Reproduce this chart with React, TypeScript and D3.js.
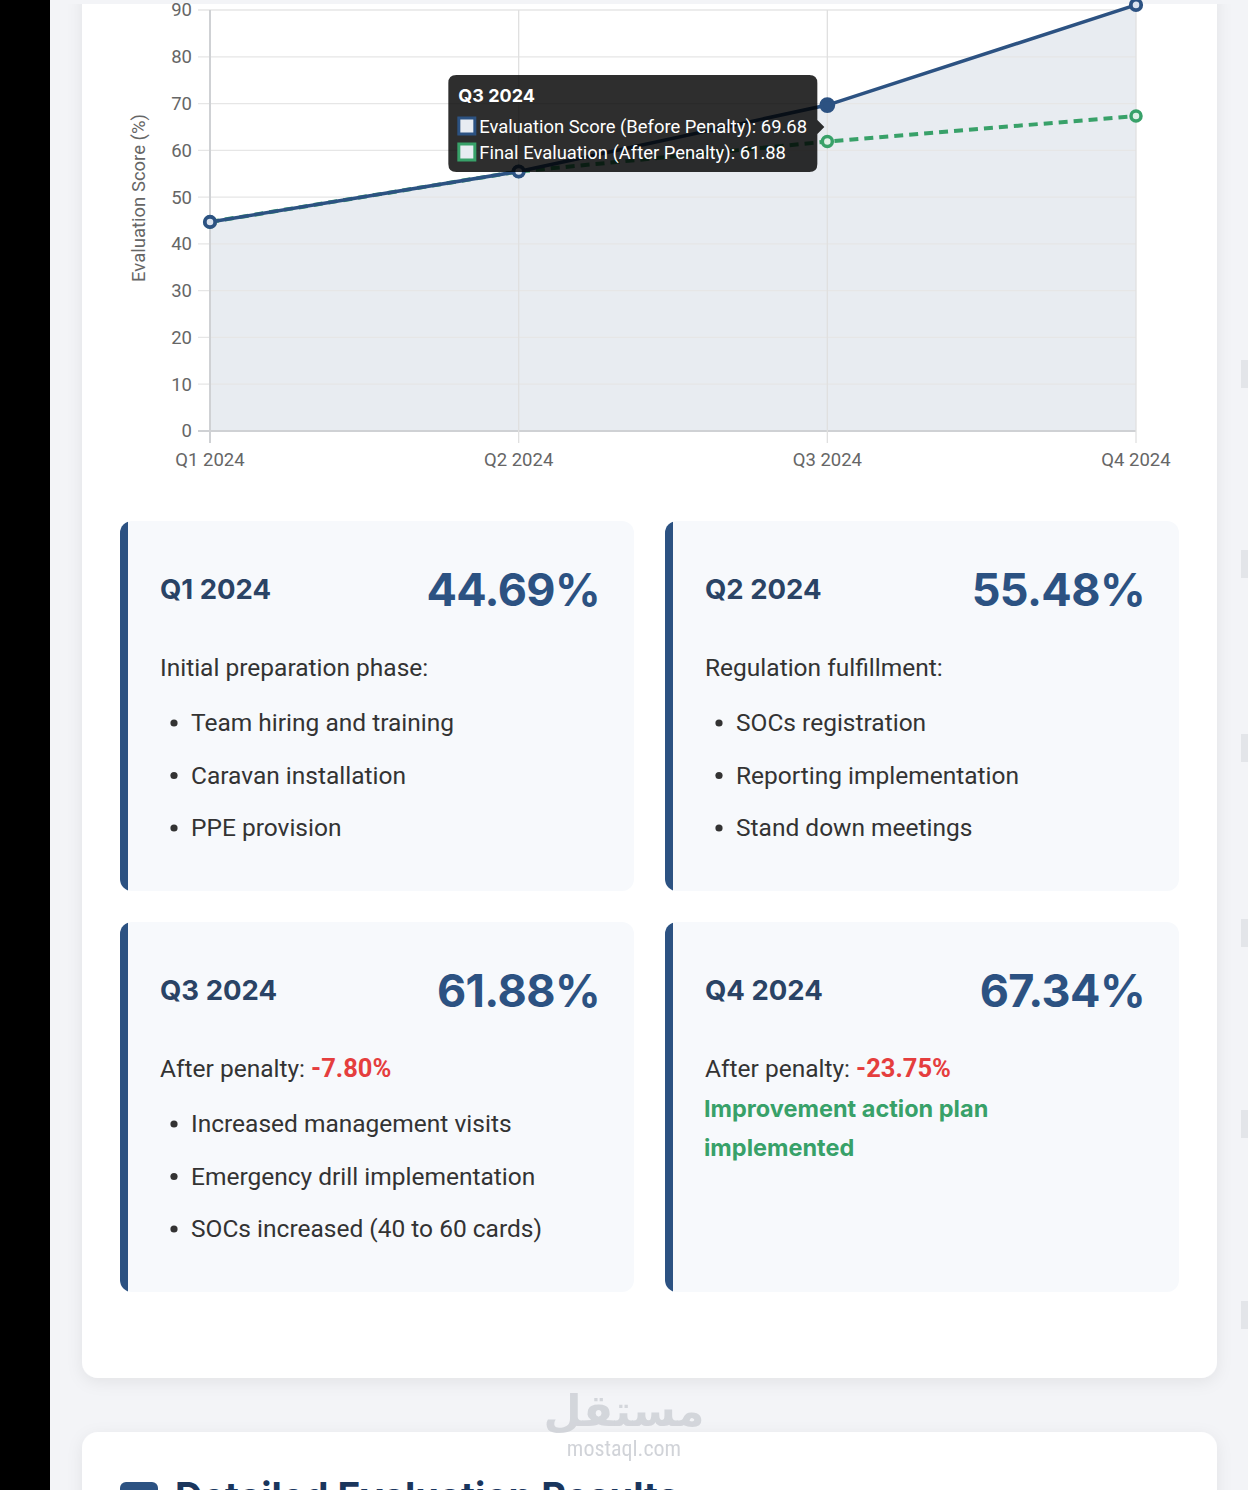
import React, { useEffect } from "react";
import * as d3 from "d3";

const quarters = ["Q1 2024", "Q2 2024", "Q3 2024", "Q4 2024"];
const beforePenalty = [44.69, 55.48, 69.68, 91.09];
const afterPenalty = [44.69, 55.48, 61.88, 67.34];
const yTicks = [0, 10, 20, 30, 40, 50, 60, 70, 80, 90];
const seriesNames = ["Evaluation Score (Before Penalty)", "Final Evaluation (After Penalty)"];
const tooltipIndex = 2;

const cardTitles = ["Q1 2024", "Q2 2024", "Q3 2024", "Q4 2024"];
const cardScores = ["44.69%", "55.48%", "61.88%", "67.34%"];
const cardIntros = ["Initial preparation phase:", "Regulation fulfillment:", "After penalty: ", "After penalty: "];
const cardPenalties = ["", "", "-7.80%", "-23.75%"];
const cardBullets = [
  ["Team hiring and training", "Caravan installation", "PPE provision"],
  ["SOCs registration", "Reporting implementation", "Stand down meetings"],
  ["Increased management visits", "Emergency drill implementation", "SOCs increased (40 to 60 cards)"],
  [],
];
const cardNotes = [[], [], [], ["Improvement action plan", "implemented"]];

const BLUE = "#2c5282";
const GREEN = "#38a169";
const RED = "#e53e3e";
const BODY = "Roboto, 'Noto Sans', sans-serif";
const HEAD = "Inter, Roboto, sans-serif";

export default function App() {
  useEffect(() => {
    document.body.style.margin = "0";
  }, []);

  const W = 1248;
  const H = 1490;
  const x = d3.scalePoint<string>().domain(quarters).range([210, 1136]);
  const y = d3.scaleLinear().domain([0, 90]).range([431, 10]);

  const line = d3
    .line<number>()
    .x((_, i) => x(quarters[i]) as number)
    .y((d) => y(d));
  const area = d3
    .area<number>()
    .x((_, i) => x(quarters[i]) as number)
    .y0(y(0))
    .y1((d) => y(d));

  const cardPos = [
    { cx: 120, cy: 521 },
    { cx: 665, cy: 521 },
    { cx: 120, cy: 922 },
    { cx: 665, cy: 922 },
  ];
  const cw = 514;
  const ch = 370;

  const tx = x(quarters[tooltipIndex]) as number;
  const tipRight = tx - 10;
  const tipLeft = tipRight - 369;
  const tipTop = 75;
  const tipBottom = 172;
  const tipMid = 127;

  const scrollMarks = [374, 564, 748, 933, 1124, 1315];

  return (
    <svg
      width={W}
      height={H}
      viewBox={`0 0 ${W} ${H}`}
      style={{ display: "block", position: "absolute", left: 0, top: 0 }}
    >
      <defs>
        <filter id="sh" x="-5%" y="-5%" width="110%" height="115%">
          <feDropShadow dx="0" dy="4" stdDeviation="8" floodColor="#1a202c" floodOpacity="0.07" />
        </filter>
        {cardPos.map((p, i) => (
          <clipPath id={`cc${i}`} key={i}>
            <rect x={p.cx} y={p.cy} width={cw} height={ch} rx={12} />
          </clipPath>
        ))}
        <clipPath id="c2">
          <rect x={82} y={1432} width={1135} height={200} rx={16} />
        </clipPath>
      </defs>

      {/* page */}
      <rect x={0} y={0} width={W} height={H} fill="#f3f4f7" />
      <rect x={0} y={0} width={50} height={H} fill="#000" />
      {scrollMarks.map((m) => (
        <rect key={m} x={1241} y={m - 14} width={7} height={28} fill="#e3e5e9" />
      ))}

      {/* main card */}
      <rect x={82} y={-20} width={1135} height={1398} rx={16} fill="#fff" filter="url(#sh)" />
      <rect x={50} y={0} width={1198} height={4} fill="#f3f4f7" />

      {/* chart grid */}
      <g>
        <path d={area(beforePenalty) || ""} fill="rgba(44,82,130,0.11)" />
        {yTicks.map((t) => (
          <g key={t}>
            <line
              x1={198}
              x2={1136}
              y1={y(t)}
              y2={y(t)}
              stroke={t === 0 ? "#cfd1d4" : "#e6e6e6"}
              strokeWidth={t === 0 ? 2 : 1.3}
            />
            <text
              x={192}
              y={y(t)}
              dy="0.35em"
              textAnchor="end"
              fontFamily={BODY}
              fontSize={18.5}
              fill="#666"
            >
              {t}
            </text>
          </g>
        ))}
        {quarters.map((q, i) => (
          <g key={q}>
            <line
              x1={x(q)}
              x2={x(q)}
              y1={y(90)}
              y2={y(0) + 12}
              stroke={i === 0 ? "#cfd1d4" : "#e0e0e0"}
              strokeWidth={i === 0 ? 2 : 1.3}
            />
            <text
              x={x(q)}
              y={466}
              textAnchor="middle"
              fontFamily={BODY}
              fontSize={18.5}
              fill="#666"
            >
              {q}
            </text>
          </g>
        ))}
        <text
          transform={`translate(145,198) rotate(-90)`}
          textAnchor="middle"
          fontFamily={BODY}
          fontSize={18.5}
          fill="#666"
        >
          Evaluation Score (%)
        </text>

        <path
          d={line(afterPenalty) || ""}
          fill="none"
          stroke={GREEN}
          strokeWidth={4}
          strokeDasharray="9 6"
        />
        <path d={line(beforePenalty) || ""} fill="none" stroke={BLUE} strokeWidth={3.5} />
        {afterPenalty.map((v, i) => (
          <circle
            key={"a" + i}
            cx={x(quarters[i])}
            cy={y(v)}
            r={5}
            fill="#dff0e6"
            stroke={GREEN}
            strokeWidth={3.5}
          />
        ))}
        {beforePenalty.map((v, i) => (
          <circle
            key={"b" + i}
            cx={x(quarters[i])}
            cy={y(v)}
            r={i === tooltipIndex ? 6 : 5.2}
            fill={i === tooltipIndex ? BLUE : "#dbe3ee"}
            stroke={BLUE}
            strokeWidth={3.8}
          />
        ))}
      </g>

      {/* tooltip */}
      <g>
        <path
          d={`M${tipLeft + 8},${tipTop} H${tipRight - 8} Q${tipRight},${tipTop} ${tipRight},${tipTop + 8} V${tipMid - 7} L${tipRight + 7},${tipMid} L${tipRight},${tipMid + 7} V${tipBottom - 8} Q${tipRight},${tipBottom} ${tipRight - 8},${tipBottom} H${tipLeft + 8} Q${tipLeft},${tipBottom} ${tipLeft},${tipBottom - 8} V${tipTop + 8} Q${tipLeft},${tipTop} ${tipLeft + 8},${tipTop} Z`}
          fill="rgba(0,0,0,0.82)"
        />
        <text x={tipLeft + 10} y={102} fontFamily={HEAD} fontWeight={700} fontSize={18} fill="#fff">
          {quarters[tooltipIndex]}
        </text>
        {[beforePenalty[tooltipIndex], afterPenalty[tooltipIndex]].map((v, k) => (
          <g key={k}>
            <rect
              x={tipLeft + 10.5}
              y={118 + k * 26}
              width={16}
              height={16}
              fill="#e8ecf2"
              stroke={k === 0 ? BLUE : GREEN}
              strokeWidth={3}
            />
            <text
              x={tipLeft + 31}
              y={133 + k * 26}
              fontFamily={BODY}
              fontSize={18.4}
              fill="#fff"
            >
              {`${seriesNames[k]}: ${v.toFixed(2)}`}
            </text>
          </g>
        ))}
      </g>

      {/* quarter cards */}
      {cardPos.map((p, i) => {
        const hasPenalty = cardPenalties[i] !== "";
        return (
          <g key={i}>
            <rect x={p.cx} y={p.cy} width={cw} height={ch} rx={12} fill="#f7f9fc" />
            <rect x={p.cx} y={p.cy} width={8} height={ch} fill={BLUE} clipPath={`url(#cc${i})`} />
            <text x={p.cx + 40} y={p.cy + 78} fontFamily={HEAD} fontWeight={700} fontSize={27.5} fill="#2a4365">
              {cardTitles[i]}
            </text>
            <text
              x={p.cx + 480}
              y={p.cy + 85}
              textAnchor="end"
              fontFamily={HEAD}
              fontWeight={700}
              fontSize={45}
              letterSpacing={-0.6}
              fill={BLUE}
            >
              {cardScores[i]}
            </text>
            <text x={p.cx + 40} y={p.cy + 155} fontFamily={BODY} fontSize={24.5} fill="#333">
              {cardIntros[i]}
              {hasPenalty && (
                <tspan fontWeight={700} fill={RED} fontSize={25.5}>
                  {cardPenalties[i]}
                </tspan>
              )}
            </text>
            {cardBullets[i].map((b, k) => (
              <g key={k}>
                <circle cx={p.cx + 54} cy={p.cy + 202 + k * 52.5} r={3.6} fill="#333" />
                <text x={p.cx + 71} y={p.cy + 210 + k * 52.5} fontFamily={BODY} fontSize={24.5} fill="#333">
                  {b}
                </text>
              </g>
            ))}
            {cardNotes[i].map((n, k) => (
              <text
                key={k}
                x={p.cx + 39}
                y={p.cy + 195 + k * 39}
                fontFamily={HEAD}
                fontWeight={700}
                fontSize={23.5}
                fill={GREEN}
              >
                {n}
              </text>
            ))}
          </g>
        );
      })}

      {/* second card */}
      <rect x={82} y={1432} width={1135} height={200} rx={16} fill="#fff" filter="url(#sh)" />
      <g clipPath="url(#c2)">
        <rect x={120} y={1482} width={38} height={30} rx={6} fill={BLUE} />
        <text x={175} y={1510} fontFamily={HEAD} fontWeight={700} fontSize={38} fill="#1a365d">
          Detailed Evaluation Results
        </text>
      </g>

      {/* watermark */}
      <text
        x={624}
        y={1426}
        textAnchor="middle"
        fontFamily="'DejaVu Sans', sans-serif"
        fontWeight={700}
        fontSize={44}
        fill="#c9ccd2"
        opacity={0.75}
      >
        مستقل
      </text>
      <text
        x={624}
        y={1456}
        textAnchor="middle"
        fontFamily="'Liberation Sans Narrow', 'Roboto Condensed', Roboto, sans-serif"
        fontSize={22}
        fill="#c9ccd2"
        opacity={0.85}
      >
        mostaql.com
      </text>
    </svg>
  );
}
